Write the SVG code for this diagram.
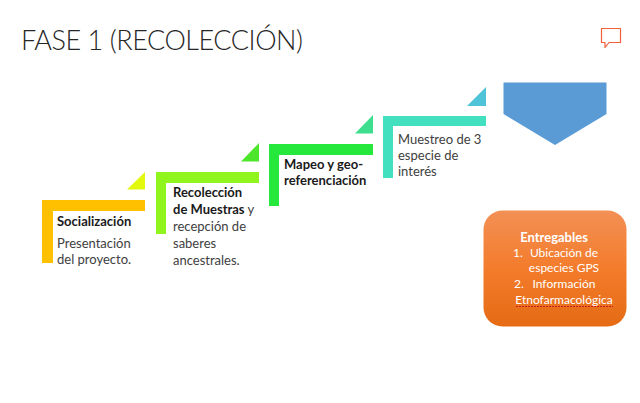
<svg xmlns="http://www.w3.org/2000/svg" width="640" height="403" viewBox="0 0 640 403">
  <style>
    text { font-family: Lato, "Open Sans", sans-serif; font-size: 13px; fill: #404040; }
    .b { font-weight: 700; fill: #1a1a1a; }
    .w { fill: #ffffff; font-size: 12px; text-anchor: middle; }
    .title { font-size: 27px; font-weight: 300; fill: #262626; }
  </style>
  <defs>
    <linearGradient id="orange" x1="0" y1="0" x2="0" y2="1">
      <stop offset="0" stop-color="#f39055"/>
      <stop offset="0.5" stop-color="#f37c2c"/>
      <stop offset="1" stop-color="#e56b14"/>
    </linearGradient>
  </defs>
  <rect width="640" height="403" fill="#ffffff"/>
  <text class="title" x="21" y="50" textLength="282">FASE 1 (RECOLECCIÓN)</text>
  <g id="comment">
    <path d="M601.500 28.500H620.500V42.500H609L605 47.500V42.500H601.500Z" fill="#ffffff" stroke="#f0603a" stroke-width="1.200" stroke-linejoin="round"/>
  </g>
  <g id="step-socializacion">
    <path d="M42 200H145V211H53V263H42Z" fill="#ffc000"/>
    <path d="M127 189.500H145V172Z" fill="#e2f80c"/>
    <text class="b" x="57" y="226">Socialización</text>
    <text x="57" y="248">Presentación</text>
    <text x="57" y="264">del proyecto.</text>
  </g>
  <g id="step-recoleccion">
    <path d="M156 172H259V183H166V234H156Z" fill="#90f51c"/>
    <path d="M241 161.500H259V143Z" fill="#4ee62c"/>
    <text class="b" x="173" y="197">Recolección</text>
    <text x="173" y="214"><tspan class="b">de Muestras</tspan> y</text>
    <text x="173" y="231">recepción de</text>
    <text x="173" y="248">saberes</text>
    <text x="173" y="265">ancestrales.</text>
  </g>
  <g id="step-mapeo">
    <path d="M269 144H373V155H279V206H269Z" fill="#26e83c"/>
    <path d="M355 133.500H373V115Z" fill="#3ddf8e"/>
    <text class="b" x="284" y="169">Mapeo y geo-</text>
    <text class="b" x="284" y="185">referenciación</text>
  </g>
  <g id="step-muestreo">
    <path d="M383 116H486V126H393V178H383Z" fill="#42e0be"/>
    <path d="M467 106H486V87Z" fill="#4fc3d8"/>
    <text x="398" y="144">Muestreo de 3</text>
    <text x="398" y="160">especie de</text>
    <text x="398" y="176">interés</text>
  </g>
  <g id="arrow-down">
    <path d="M503.500 82.500H606.500V114L555 145L503.500 114Z" fill="#5b9bd5"/>
  </g>
  <g id="entregables">
    <rect x="483.500" y="210.500" width="143" height="116" rx="19" fill="url(#orange)"/>
    <text class="w b" style="fill:#ffffff;font-size:13px" x="554" y="242">Entregables</text>
    <text class="w" x="513" y="257" style="text-anchor:start">1.</text>
    <text class="w" x="564" y="257">Ubicación de</text>
    <text class="w" x="564" y="272">especies GPS</text>
    <text class="w" x="514" y="288" style="text-anchor:start">2.</text>
    <text class="w" x="564" y="288">Información</text>
    <text class="w" x="564" y="304">Etnofarmacológica</text>
    <!-- spell-check underline beneath the last word -->
    <line x1="516" y1="306.500" x2="613" y2="306.500" stroke="#c81e1e" stroke-width="1.200" stroke-dasharray="2 1"/>
  </g>
</svg>
